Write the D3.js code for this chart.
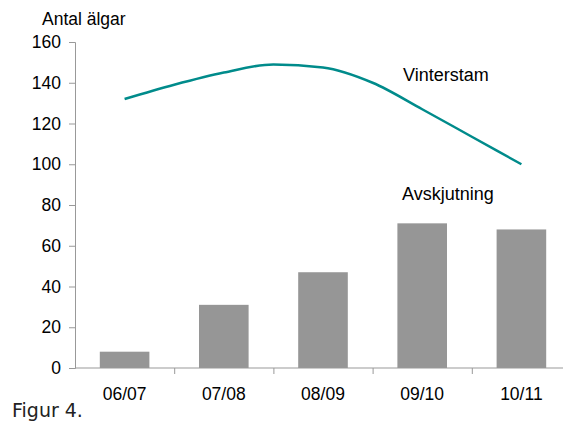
<!DOCTYPE html>
<html>
<head>
<meta charset="utf-8">
<title>Antal älgar</title>
<script src="https://cdn.jsdelivr.net/npm/d3@7/dist/d3.min.js"></script>
<style>
body { margin: 0; background: #fff; }
text { font-family: "Liberation Sans", Arial, sans-serif; fill: #000; }
.axis path, .axis line { stroke: #999; }
.fig { font-family: "DejaVu Sans", Verdana, sans-serif; fill: #222; }
</style>
</head>
<body>
<div id="chart"></div>
<script>
// seasons and harvest (bars)
const seasons = ["06/07", "07/08", "08/09", "09/10", "10/11"];
const avskjutning = [8, 31, 47, 71, 68];

// winter stock, read at half-season steps along the curve
const stamPos = [0, 0.5, 1, 1.5, 2, 2.5, 3, 3.5, 4];
const vinterstam = [132, 139, 145, 149, 147.5, 140, 127, 113.5, 100];

const yTicks = [0, 20, 40, 60, 80, 100, 120, 140, 160];

const width = 563, height = 421;
const margin = {top: 42, left: 75, right: -8, bottom: 53};

const svg = d3.select("#chart").append("svg")
    .attr("width", width)
    .attr("height", height);

const x = d3.scaleBand()
    .domain(seasons)
    .range([margin.left, width - margin.right])
    .padding(0);

const y = d3.scaleLinear()
    .domain([0, 160])
    .range([height - margin.bottom, margin.top]);

// center of each season, in index units for the line
const xPos = d3.scaleLinear()
    .domain([0, seasons.length - 1])
    .range([x(seasons[0]) + x.bandwidth() / 2, x(seasons[seasons.length - 1]) + x.bandwidth() / 2]);

// bars
svg.append("g").selectAll("rect")
    .data(avskjutning)
    .join("rect")
    .attr("x", (d, i) => x(seasons[i]) + x.bandwidth() * 0.25)
    .attr("width", x.bandwidth() * 0.5)
    .attr("y", d => y(d))
    .attr("height", d => y(0) - y(d))
    .attr("fill", "#969696");

// y axis
const yAxis = svg.append("g")
    .attr("class", "axis")
    .attr("transform", `translate(${margin.left},0)`)
    .call(d3.axisLeft(y).tickValues(yTicks).tickSize(6).tickPadding(8).tickSizeOuter(6));
yAxis.selectAll("text").style("font-size", "17.5px").style("font-family", "Liberation Sans, Arial, sans-serif");

// x axis, ticks on the category boundaries
const xAxis = svg.append("g")
    .attr("class", "axis")
    .attr("transform", `translate(0,${y(0)})`);
xAxis.append("line")
    .attr("x1", margin.left).attr("x2", width)
    .attr("stroke", "#999");
xAxis.selectAll("line.tick")
    .data(seasons.slice(1))
    .join("line")
    .attr("class", "tick")
    .attr("x1", d => x(d) + 0.5).attr("x2", d => x(d) + 0.5)
    .attr("y1", 0).attr("y2", 6)
    .attr("stroke", "#999");
xAxis.selectAll("text")
    .data(seasons)
    .join("text")
    .attr("x", d => x(d) + x.bandwidth() / 2)
    .attr("y", 32)
    .attr("text-anchor", "middle")
    .style("font-size", "17.5px")
    .text(d => d);

// winter stock line
const line = d3.line()
    .x((d, i) => xPos(stamPos[i]))
    .y(d => y(d))
    .curve(d3.curveMonotoneX);

svg.append("path")
    .datum(vinterstam)
    .attr("d", line)
    .attr("fill", "none")
    .attr("stroke", "#008B8B")
    .attr("stroke-width", 2.5);

// labels
svg.append("text").attr("x", 42).attr("y", 25).style("font-size", "17.5px").text("Antal älgar");
svg.append("text").attr("x", 403).attr("y", 81).style("font-size", "18px").text("Vinterstam");
svg.append("text").attr("x", 402).attr("y", 200).style("font-size", "18px").text("Avskjutning");
svg.append("text").attr("class", "fig").attr("x", 12).attr("y", 417).style("font-size", "19px").text("Figur 4.");
</script>
</body>
</html>
